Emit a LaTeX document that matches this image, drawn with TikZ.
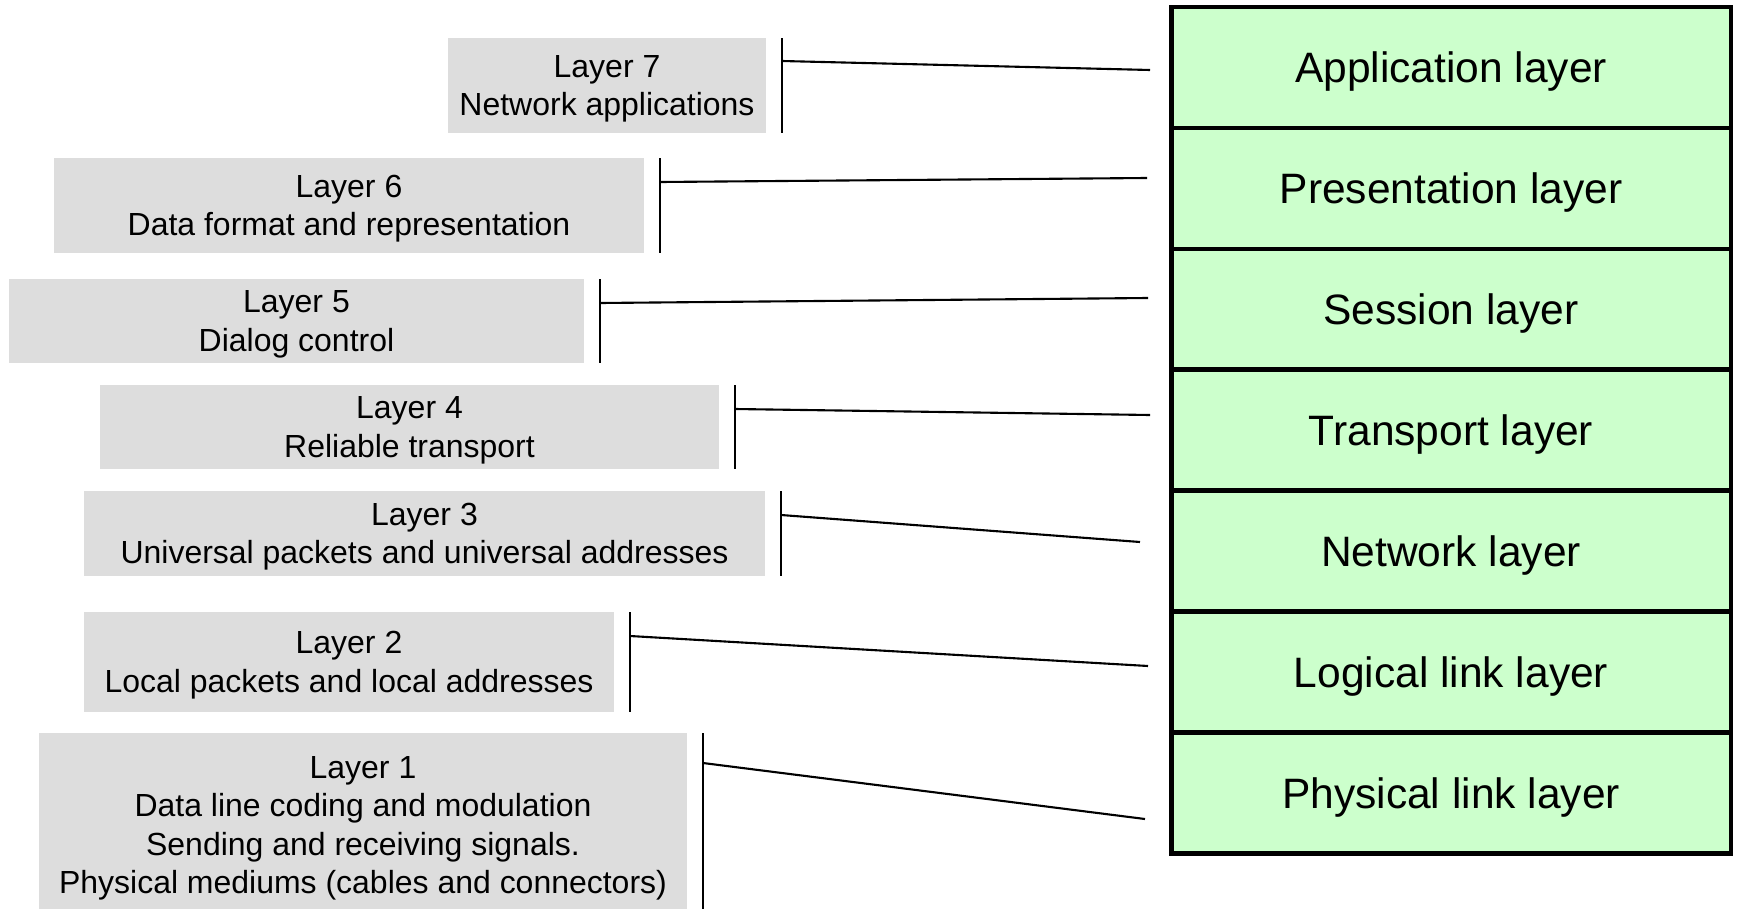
\documentclass[tikz,border=0pt]{standalone}
\usepackage{fontspec}
\setmainfont{Liberation Sans}
\usepackage{tikz}
\usetikzlibrary{shapes.geometric, arrows}
\definecolor{layergreen}{HTML}{CCFFCC}
\definecolor{notegray}{HTML}{DDDDDD}
\tikzstyle{osilayer} = [rectangle, minimum width=11.2cm, minimum height=2.42cm, inner sep=0pt, outer sep=0pt, text centered, text depth=-2.4pt, draw=black, line width=2.8pt, fill=layergreen, font=\fontsize{24.2}{29}\selectfont]
\tikzstyle{note} = [rectangle, inner sep=0pt, outer sep=0pt, text centered, align=center, text depth=-1.8pt, fill=notegray, font=\fontsize{18.2}{21.9}\selectfont]
\tikzstyle{bracket} = [line width=1.2pt]
\tikzstyle{link} = [line width=1.2pt]

\begin{document}
\begin{tikzpicture}[x=0.02cm, y=-0.02cm, node distance=2.42cm]
\useasboundingbox (0,0) rectangle (1737,909);
\node (app) [osilayer] at (1451,67.5) {Application layer};
\node (pres) [osilayer, below of=app] {Presentation layer};
\node (sess) [osilayer, below of=pres] {Session layer};
\node (trans) [osilayer, below of=sess] {Transport layer};
\node (net) [osilayer, below of=trans] {Network layer};
\node (llink) [osilayer, below of=net] {Logical link layer};
\node (phys) [osilayer, below of=llink] {Physical link layer};

\node (l7) [note, minimum width=6.36cm, minimum height=1.9cm] at (607,85.5) {Layer 7\\Network applications};
\node (l6) [note, minimum width=11.8cm, minimum height=1.9cm] at (349,205.5) {Layer 6\\Data format and representation};
\node (l5) [note, minimum width=11.5cm, minimum height=1.68cm] at (296.5,321) {Layer 5\\Dialog control};
\node (l4) [note, minimum width=12.38cm, minimum height=1.68cm] at (409.5,427) {Layer 4\\Reliable transport};
\node (l3) [note, minimum width=13.62cm, minimum height=1.7cm] at (424.5,533.5) {Layer 3\\Universal packets and universal addresses};
\node (l2) [note, minimum width=10.6cm, minimum height=2cm] at (349,662) {Layer 2\\Local packets and local addresses};
\node (l1) [note, minimum width=12.96cm, minimum height=3.68cm] at (363,825) {Layer 1\\Data line coding and modulation\\Sending and receiving signals.\\Physical mediums (cables and connectors)};

\coordinate (b7) at (782,61);
\coordinate (b6) at (660,182);
\coordinate (b5) at (600,303);
\coordinate (b4) at (735,409);
\coordinate (b3) at (781,515);
\coordinate (b2) at (630,636);
\coordinate (b1) at (703,763);
\coordinate (e7) at (1150,70);
\coordinate (e6) at (1147,178);
\coordinate (e5) at (1148,298);
\coordinate (e4) at (1150,415);
\coordinate (e3) at (1140,542);
\coordinate (e2) at (1148,666);
\coordinate (e1) at (1145,819);

\draw [bracket] ([xshift=0.32cm]l7.north east) -- ([xshift=0.32cm]l7.south east);
\draw [bracket] ([xshift=0.32cm]l6.north east) -- ([xshift=0.32cm]l6.south east);
\draw [bracket] ([xshift=0.32cm]l5.north east) -- ([xshift=0.32cm]l5.south east);
\draw [bracket] ([xshift=0.32cm]l4.north east) -- ([xshift=0.32cm]l4.south east);
\draw [bracket] ([xshift=0.32cm]l3.north east) -- ([xshift=0.32cm]l3.south east);
\draw [bracket] ([xshift=0.32cm]l2.north east) -- ([xshift=0.32cm]l2.south east);
\draw [bracket] ([xshift=0.32cm]l1.north east) -- ([xshift=0.32cm]l1.south east);

\draw [link] (b7) -- (e7);
\draw [link] (b6) -- (e6);
\draw [link] (b5) -- (e5);
\draw [link] (b4) -- (e4);
\draw [link] (b3) -- (e3);
\draw [link] (b2) -- (e2);
\draw [link] (b1) -- (e1);
\end{tikzpicture}
\end{document}
